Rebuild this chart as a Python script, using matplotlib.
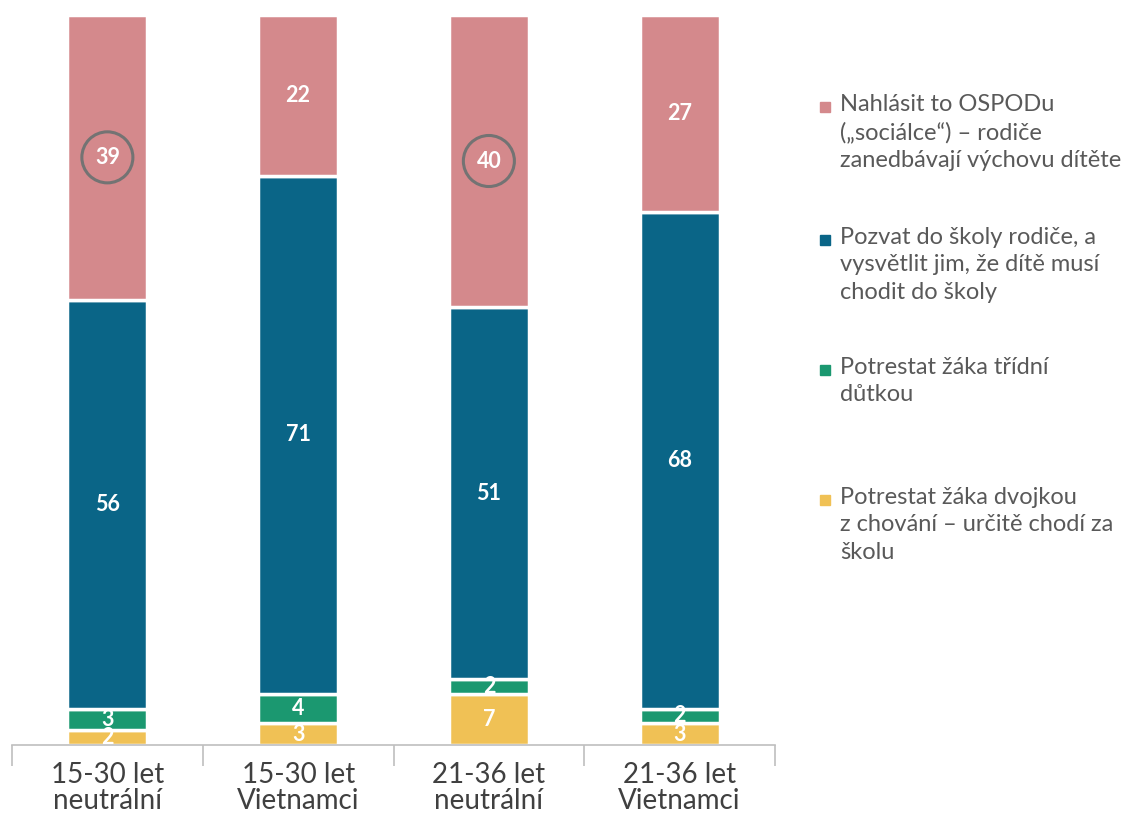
import matplotlib
matplotlib.use("Agg")
import matplotlib.pyplot as plt
import numpy as np

categories = ["15-30 let\nneutrální", "15-30 let\nVietnamci", "21-36 let\nneutrální", "21-36 let\nVietnamci"]
series_names = [
    "Potrestat žáka dvojkou\nz chování – určitě chodí za\nškolu",
    "Potrestat žáka třídní\ndůtkou",
    "Pozvat do školy rodiče, a\nvysvětlit jim, že dítě musí\nchodit do školy",
    "Nahlásit to OSPODu\n(„sociálce“) – rodiče\nzanedbávají výchovu dítěte",
]
dvojka = [2, 3, 7, 3]
dutka = [3, 4, 2, 2]
pozvat = [56, 71, 51, 68]
nahlasit = [39, 22, 40, 27]
circled = [0, 2]  # bars whose top value is circled

colors = ["#F0C155", "#1B9870", "#0A6587", "#D4898C"]
series = [dvojka, dutka, pozvat, nahlasit]

plt.rcParams['font.family'] = ['Lato', 'DejaVu Sans']

fig = plt.figure(figsize=(11.26, 8.16), dpi=100)
ax = fig.add_axes([12/1126, 71/816, 763/1126, 730/816])

x = np.arange(len(categories))
bottom = np.zeros(len(categories))
for vals, col in zip(series, colors):
    vals = np.array(vals, dtype=float)
    ax.bar(x, vals, bottom=bottom, width=0.42, color=col, edgecolor="white", linewidth=2.5, zorder=2)
    for xi, v, b in zip(x, vals, bottom):
        ax.text(xi, b + v / 2, f"{int(v)}", ha="center", va="center", color="white",
                fontsize=15.5, fontweight="bold", zorder=4)
    bottom += vals

# circles around top values
top_vals = np.array(nahlasit, dtype=float)
base = np.array(dvojka) + np.array(dutka) + np.array(pozvat)
cx = [x[i] for i in circled]
cy = [base[i] + top_vals[i] / 2 for i in circled]
ax.scatter(cx, cy, s=1350, facecolors="none", edgecolors="#737373", linewidths=2.2, zorder=5)

ax.set_xlim(-0.5, 3.5)
ax.set_ylim(0, 100)
ax.set_yticks([])
for s in ["top", "right", "left"]:
    ax.spines[s].set_visible(False)
ax.spines["bottom"].set_color("#BFBFBF")
ax.spines["bottom"].set_linewidth(1.2)
ax.set_xticks(x)
ax.set_xticklabels(categories, fontsize=20, color="#404040", linespacing=1.0)
ax.tick_params(axis="x", which="major", length=0, pad=12)
ax.set_xticks(np.arange(-0.5, 4, 1), minor=True)
ax.tick_params(axis="x", which="minor", length=15, width=1.2, color="#BFBFBF", direction="out")

# legend (manual)
leg_items = [(3, 107), (2, 240), (1, 370), (0, 500)]
for idx, ytop in leg_items:
    fig.text(840/1126, 1 - (ytop - 13) / 816, series_names[idx], ha="left", va="top",
             fontsize=17, color="#595959", linespacing=1.38)
    fig.patches.append(plt.Rectangle(((820) / 1126, 1 - (ytop + 5) / 816), 10 / 1126, 10 / 816,
                                     transform=fig.transFigure, color=colors[idx], figure=fig))

fig.savefig("out.png", dpi=100)
